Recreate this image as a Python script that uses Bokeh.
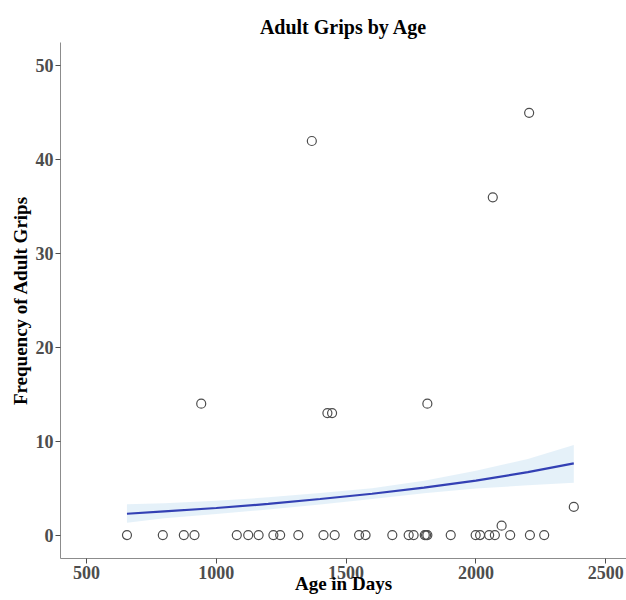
from bokeh.plotting import figure
from bokeh.models import Range1d, ColumnDataSource, FixedTicker
from bokeh.embed import file_html
from bokeh.resources import INLINE

# ---- data ----
age_days = [656, 794, 875, 916, 1079, 1123, 1163, 1220, 1246, 1316, 1413, 1456,
            1550, 1575, 1678, 1741, 1760, 1803, 1808, 1813, 1903, 1999, 2016,
            2051, 2073, 2132, 2208, 2263,
            2099, 2377, 942, 1428, 1446, 1813, 1368, 2065, 2205]
adult_grips = [0, 0, 0, 0, 0, 0, 0, 0, 0, 0, 0, 0,
               0, 0, 0, 0, 0, 0, 0, 0, 0, 0, 0,
               0, 0, 0, 0, 0,
               1, 3, 14, 13, 13, 14, 42, 36, 45]

smooth_x = [656, 800, 1000, 1200, 1400, 1600, 1800, 2000, 2200, 2377]
smooth_fit = [2.27, 2.52, 2.88, 3.32, 3.84, 4.40, 5.05, 5.80, 6.70, 7.64]
smooth_upper = [3.27, 3.40, 3.65, 4.02, 4.48, 5.00, 5.80, 6.85, 8.10, 9.59]
smooth_lower = [1.31, 1.80, 2.25, 2.72, 3.25, 3.85, 4.45, 4.95, 5.30, 5.58]

x_ticks = [500, 1000, 1500, 2000, 2500]
y_ticks = [0, 10, 20, 30, 40, 50]

FONT = "Liberation Serif"

p = figure(width=626, height=600, output_backend="svg", toolbar_location=None,
           x_range=Range1d(400, 2580), y_range=Range1d(-2.5, 52.5),
           min_border_left=60, min_border_right=0, min_border_top=42,
           min_border_bottom=42, background_fill_color="white",
           border_fill_color="white", outline_line_color=None)

p.title.text = "Adult Grips by Age"
p.title.align = "center"
p.title.text_font = FONT
p.title.text_font_style = "bold"
p.title.text_font_size = "20px"
p.title.text_color = "black"

pts = ColumnDataSource(dict(x=age_days, y=adult_grips))
p.scatter("x", "y", source=pts, marker="circle", size=9, fill_color=None,
          line_color="#4d4d4d", line_width=1.2)

band = ColumnDataSource(dict(x=smooth_x, lo=smooth_lower, hi=smooth_upper, fit=smooth_fit))
p.varea(x="x", y1="lo", y2="hi", source=band, fill_color="#e2eff8", fill_alpha=0.9)
p.line("x", "fit", source=band, line_color="#3340b4", line_width=2.2)

p.grid.visible = False

for ax in (p.xaxis[0], p.yaxis[0]):
    ax.axis_line_color = "#8c8c8c"
    ax.axis_line_width = 1
    ax.major_tick_line_color = "#4d4d4d"
    ax.major_tick_out = 5
    ax.major_tick_in = 0
    ax.minor_tick_line_color = None
    ax.major_label_text_font = FONT
    ax.major_label_text_font_style = "bold"
    ax.major_label_text_font_size = "18px"
    ax.major_label_text_color = "#4d4d4d"
    ax.axis_label_text_font = FONT
    ax.axis_label_text_font_style = "bold"
    ax.axis_label_text_font_size = "19px"
    ax.axis_label_text_color = "black"

p.xaxis.axis_label = "Age in Days"
p.yaxis.axis_label = "Frequency of Adult Grips"
p.xaxis.ticker = FixedTicker(ticks=x_ticks)
p.yaxis.ticker = FixedTicker(ticks=y_ticks)
p.xaxis.major_label_standoff = 2
p.xaxis.axis_label_standoff = -9
p.yaxis.major_label_standoff = 2
p.yaxis.axis_label_standoff = 2

open("out.html", "w").write(file_html(p, INLINE))
